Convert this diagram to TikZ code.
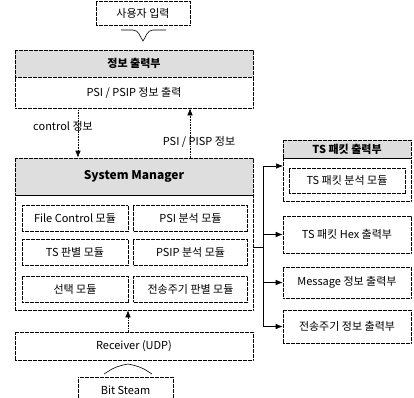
\documentclass[tikz,border=0pt]{standalone}
\usepackage{fontspec}
\setmainfont{Noto Sans CJK KR}
\usetikzlibrary{arrows.meta}

\begin{document}
\begin{tikzpicture}[x=1pt,y=-1pt,
  box/.style={draw,semithick,dash pattern=on 2pt off 0.5pt,inner sep=0pt,font=\fontsize{11}{13}\selectfont},
  hdr/.style={box,fill=black!13,font=\fontsize{11}{13}\selectfont\bfseries},
  mod/.style={box,minimum height=26pt},
  arr/.style={-{Latex[length=7pt,width=5.5pt]},semithick,densely dotted}]
  \useasboundingbox (0,0) rectangle (414,397);

  % User input
  \node[box,minimum width=94pt,minimum height=24pt] (inp) at (143,13) {사용자 입력};
  \draw[semithick] (121,30) -- (133,30) .. controls (139,30) and (140,37) .. (143,41)
        .. controls (146,37) and (147,30) .. (153,30) -- (166,30);

  % Output part
  \node[hdr,minimum width=238pt,minimum height=27pt] (outhdr) at (134,63.5) {정보 출력부};
  \node[box,minimum width=238pt,minimum height=31pt] (outbody) at (134,92.5) {PSI / PSIP 정보 출력};

  % System Manager
  \node[hdr,minimum width=238pt,minimum height=37pt,font=\fontsize{12}{14}\selectfont\bfseries] (smhdr) at (134,176.5) {System Manager};
  \node[box,minimum width=238pt,minimum height=115pt] (smbody) at (134,252.5) {};
  \node[mod,minimum width=106pt] (m1) at (75,218.5) {File Control 모듈};
  \node[mod,minimum width=114pt] (m2) at (190.5,218.5) {PSI 분석 모듈};
  \node[mod,minimum width=106pt] (m3) at (75,252.5) {TS 판별 모듈};
  \node[mod,minimum width=114pt] (m4) at (190.5,252.5) {PSIP 분석 모듈};
  \node[mod,minimum width=106pt] (m5) at (75,289) {선택 모듈};
  \node[mod,minimum width=114pt] (m6) at (190.5,289) {전송주기 판별 모듈};

  % Info arrows
  \coordinate (ctl) at (78,0);
  \coordinate (psi) at (190,0);
  \draw[arr] (outbody.south -| ctl) -- (smhdr.north -| ctl);
  \draw[arr] (smhdr.north -| psi) -- (outbody.south -| psi);
  \node[font=\fontsize{11}{13}\selectfont] (ctllab) at (63,126) {control 정보};
  \node[font=\fontsize{11}{13}\selectfont] (psilab) at (199,142) {PSI / PISP 정보};

  % Receiver and input stream
  \node[box,minimum width=238pt,minimum height=28pt] (recv) at (134,346) {Receiver (UDP)};
  \coordinate (rx) at (128,0);
  \draw[arr] (recv.north -| rx) -- (smbody.south -| rx);
  \node[box,minimum width=95pt,minimum height=26pt] (bits) at (125.5,390) {Bit Steam};
  \draw[semithick] (104,374) -- (112,369) .. controls (118,366) and (123,365) .. (128,364)
        .. controls (133,365) and (138,366) .. (144,369) -- (152,374);

  % Output boxes
  \node[hdr,minimum width=128pt,minimum height=18pt] (tshdr) at (347,149) {TS 패킷 출력부};
  \node[box,minimum width=128pt,minimum height=43pt] (tsbody) at (347,179.5) {};
  \node[box,minimum width=116pt,minimum height=25pt] (tsmod) at (347,180.5) {TS 패킷 분석 모듈};
  \node[box,minimum width=128pt,minimum height=37pt] (hex) at (347,234.5) {TS 패킷 Hex 출력부};
  \node[box,minimum width=128pt,minimum height=31pt] (msg) at (347,282.5) {Message 정보 출력부};
  \node[box,minimum width=128pt,minimum height=33pt] (period) at (347,326.5) {전송주기 정보 출력부};

  % Output bus
  \coordinate (jn) at (263,247);
  \coordinate (tsin) at (283,166);
  \draw[semithick] (smbody.east |- jn) -- (jn);
  \draw[arr,solid] (jn) |- (tsin);
  \draw[arr,solid] (jn) |- (hex.west);
  \draw[arr,solid] (jn) |- (msg.west);
  \draw[arr,solid] (jn) |- (period.west);
\end{tikzpicture}
\end{document}
